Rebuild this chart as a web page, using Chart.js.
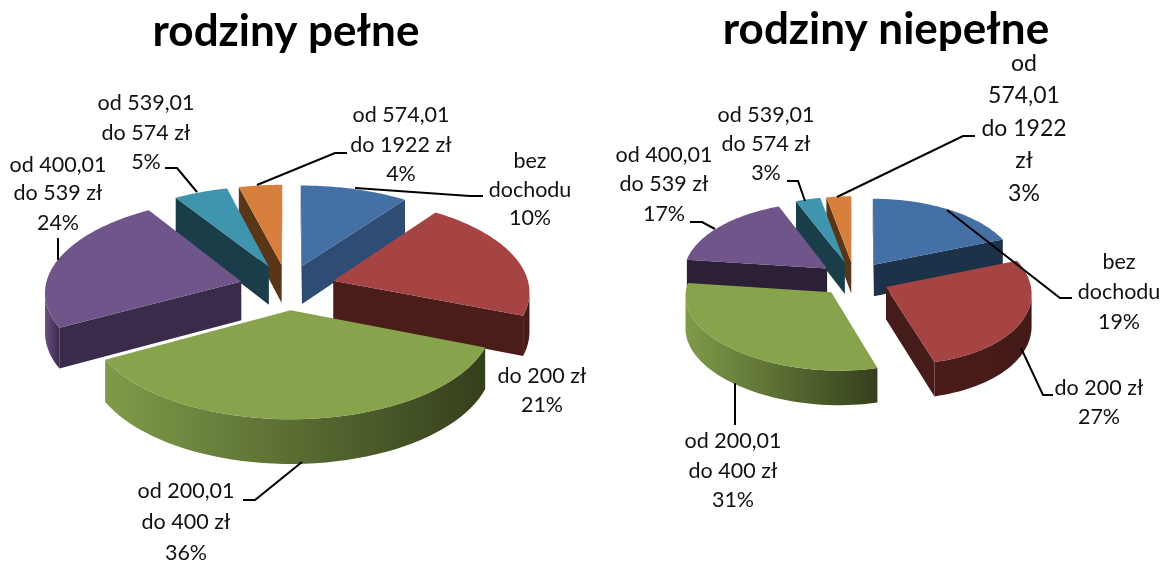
<!DOCTYPE html>
<html>
<head>
<meta charset="utf-8">
<script src="https://cdn.jsdelivr.net/npm/chart.js@4"></script>
<style>
  html, body { margin: 0; background: #fff; overflow: hidden; }
  #page { position: relative; width: 1171px; height: 565px; overflow: hidden; }
  .box { position: absolute; top: 0; height: 565px; }
</style>
</head>
<body>
<div id="page">
  <div class="box" style="left:-14px;width:600px"><canvas id="pelne"></canvas></div>
  <div class="box" style="left:601px;width:570px"><canvas id="niepelne"></canvas></div>
</div>
<script>
const categories = ["bez dochodu", "do 200 zł", "od 200,01 do 400 zł", "od 400,01 do 539 zł", "od 539,01 do 574 zł", "od 574,01 do 1922 zł"];
const pelneValues = [10, 21, 36, 24, 5, 4];
const niepelneValues = [19, 27, 31, 17, 3, 3];

const pelneWrap = [["bez", "dochodu"], ["do 200 zł"], ["od 200,01", "do 400 zł"], ["od 400,01", "do 539 zł"], ["od 539,01", "do 574 zł"], ["od 574,01", "do 1922 zł"]];
const niepelneWrap = [["bez", "dochodu"], ["do 200 zł"], ["od 200,01", "do 400 zł"], ["od 400,01", "do 539 zł"], ["od 539,01", "do 574 zł"], ["od", "574,01", "do 1922", "zł"]];

const topColors = ["#4570a6", "#a54442", "#87a34c", "#70558a", "#3f94ae", "#d7803d"];

// rim colour at the left and right end of the visible wall
const rimLeft = ["#2d4d74", "#4a1c1a", "#7f9b49", "#6a4f83", "#3b8ba4", "#b96d33"];
const rimRight = ["#1f3a5a", "#431a18", "#343f1c", "#3a2b4a", "#17394a", "#553215"];

// fake 3d: the pie elements come from chart.js, we only tilt them
const tilted = {
  id: "tilted",
  beforeDatasetDraw(chart, args, opts) {
    const ctx = chart.ctx;
    const arcs = chart.getDatasetMeta(args.index).data;

    const project = (u, v, z) => {
      const w = 1 - opts.k * v;
      const near = Math.max(v, 0);
      return {
        x: opts.cx + (opts.radius * u) / w + opts.skew * near * near,
        y: opts.cy + (opts.radius * opts.squash * v + z * opts.depth) / w,
      };
    };
    const facing = (a, b) => {
      const p0 = project(a[0], a[1], 0);
      const p1 = project(b[0], b[1], 0);
      const p2 = project(b[0], b[1], 1);
      return (p1.x - p0.x) * (p2.y - p0.y) - (p1.y - p0.y) * (p2.x - p0.x) < 0;
    };
    const wall = (pts, fill) => {
      ctx.beginPath();
      pts.forEach((r, j) => {
        const q = project(r[0], r[1], 0);
        j ? ctx.lineTo(q.x, q.y) : ctx.moveTo(q.x, q.y);
      });
      pts.slice().reverse().forEach((r) => {
        const q = project(r[0], r[1], 1);
        ctx.lineTo(q.x, q.y);
      });
      ctx.closePath();
      ctx.fillStyle = fill;
      ctx.fill();
    };

    const slices = arcs.map((arc, i) => {
      const R = arc.outerRadius;
      const mid = (arc.startAngle + arc.endAngle) / 2;
      const off = arc.options.offset / R;
      const ox = off * Math.cos(mid);
      const oy = off * Math.sin(mid);
      const rim = [];
      const n = 48;
      for (let s = 0; s <= n; s++) {
        const a = arc.startAngle + ((arc.endAngle - arc.startAngle) * s) / n;
        rim.push([ox + Math.cos(a), oy + Math.sin(a)]);
      }
      return { i, apex: [ox, oy], rim, sortY: project(ox, oy, 0).y };
    });
    slices.sort((a, b) => a.sortY - b.sortY);

    slices.forEach((s) => {
      const last = s.rim[s.rim.length - 1];
      if (facing(s.apex, s.rim[0])) wall([s.apex, s.rim[0]], opts.cut[s.i]);
      if (facing(last, s.apex)) wall([last, s.apex], opts.cut[s.i]);

      // outer wall, only the part turned to the viewer
      const seen = s.rim.filter((r, j) => (j < s.rim.length - 1 ? facing(r, s.rim[j + 1]) : facing(s.rim[j - 1], r)));
      if (seen.length > 1) {
        const xs = seen.map((r) => project(r[0], r[1], 0).x);
        const g = ctx.createLinearGradient(Math.min(...xs), 0, Math.max(...xs), 0);
        g.addColorStop(0, rimLeft[s.i]);
        g.addColorStop(1, rimRight[s.i]);
        wall(seen, g);
      }

      ctx.beginPath();
      let q = project(s.apex[0], s.apex[1], 0);
      ctx.moveTo(q.x, q.y);
      s.rim.forEach((r) => {
        q = project(r[0], r[1], 0);
        ctx.lineTo(q.x, q.y);
      });
      ctx.closePath();
      ctx.fillStyle = topColors[s.i];
      ctx.fill();
    });
    return false;
  },
  afterDraw(chart, args, opts) {
    const ctx = chart.ctx;
    ctx.save();
    ctx.translate(-opts.originX, 0);
    ctx.strokeStyle = "#000";
    ctx.lineWidth = 2;
    opts.leaders.forEach((pts) => {
      ctx.beginPath();
      pts.forEach((p, j) => (j ? ctx.lineTo(p[0], p[1]) : ctx.moveTo(p[0], p[1])));
      ctx.stroke();
    });
    ctx.fillStyle = "#111";
    ctx.textAlign = "center";
    ctx.textBaseline = "alphabetic";
    opts.labels.forEach((lab, i) => {
      const lines = opts.wrap[i].concat(chart.data.datasets[0].data[i] + "%");
      ctx.font = `${lab.size || 21.5}px Lato`;
      lines.forEach((t, j) => ctx.fillText(t, lab.x, lab.ys[j]));
    });
    ctx.restore();
  },
};

function makePie(target, values, cfg) {
  return new Chart(document.getElementById(target), {
    type: "pie",
    plugins: [tilted],
    data: {
      labels: categories,
      datasets: [{ data: values, backgroundColor: topColors, borderWidth: 0, offset: values.map(() => cfg.offset) }],
    },
    options: {
      animation: false,
      responsive: true,
      maintainAspectRatio: false,
      radius: cfg.radius,
      layout: { padding: 0 },
      plugins: {
        legend: { display: false },
        tooltip: { enabled: false },
        title: {
          display: true,
          text: cfg.title,
          color: "#000",
          font: { family: "Lato", weight: "bold", size: 44 },
          padding: { top: cfg.titleTop, bottom: 0 },
        },
        tilted: cfg,
      },
    },
  });
}

makePie("pelne", pelneValues, {
  title: "rodziny pełne",
  titleTop: 5,
  originX: -14,
  cx: 301.5,
  cy: 287,
  radius: 196,
  offset: 48,
  squash: 0.473,
  k: 0.1026,
  skew: 0,
  depth: 39,
  cut: ["#2d4d74", "#4a1c1a", "#3c4a22", "#3a2b4a", "#1a3e49", "#5a3517"],
  wrap: pelneWrap,
  labels: [
    { x: 530, ys: [168, 197, 225] },
    { x: 542, ys: [383, 412] },
    { x: 186, ys: [498, 529, 560] },
    { x: 58, ys: [172, 200, 230] },
    { x: 146, ys: [110, 140, 169] },
    { x: 401, ys: [122, 152, 181] },
  ],
  leaders: [
    [[355, 188], [470, 196], [483, 196]],
    [[257, 185], [335, 153], [347, 153]],
    [[197, 192], [177, 168], [165, 168]],
    [[58, 260], [58, 238]],
    [[302, 462], [255, 500], [243, 500]],
  ],
});

makePie("niepelne", niepelneValues, {
  title: "rodziny niepełne",
  titleTop: 3,
  originX: 601,
  cx: 253.5,
  cy: 279,
  radius: 144,
  offset: 35,
  squash: 0.4986,
  k: 0.0625,
  skew: 7,
  depth: 32,
  cut: ["#1b3249", "#451c1a", "#3c4a22", "#2c2036", "#1a3e49", "#5a3517"],
  wrap: niepelneWrap,
  labels: [
    { x: 1119, ys: [269, 299, 329] },
    { x: 1099, ys: [395, 424] },
    { x: 733, ys: [448, 478, 507] },
    { x: 664, ys: [162, 191, 221] },
    { x: 766, ys: [122, 151, 180] },
    { x: 1024, ys: [71, 103, 136, 168, 201], size: 23 },
  ],
  leaders: [
    [[947, 210], [1060, 298], [1072, 298]],
    [[1021, 348], [1043, 395], [1053, 395]],
    [[735, 383], [735, 425]],
    [[715, 229], [702, 222], [690, 222]],
    [[805, 201], [798, 181], [787, 181]],
    [[837, 197], [963, 136], [975, 136]],
  ],
});
</script>
</body>
</html>
